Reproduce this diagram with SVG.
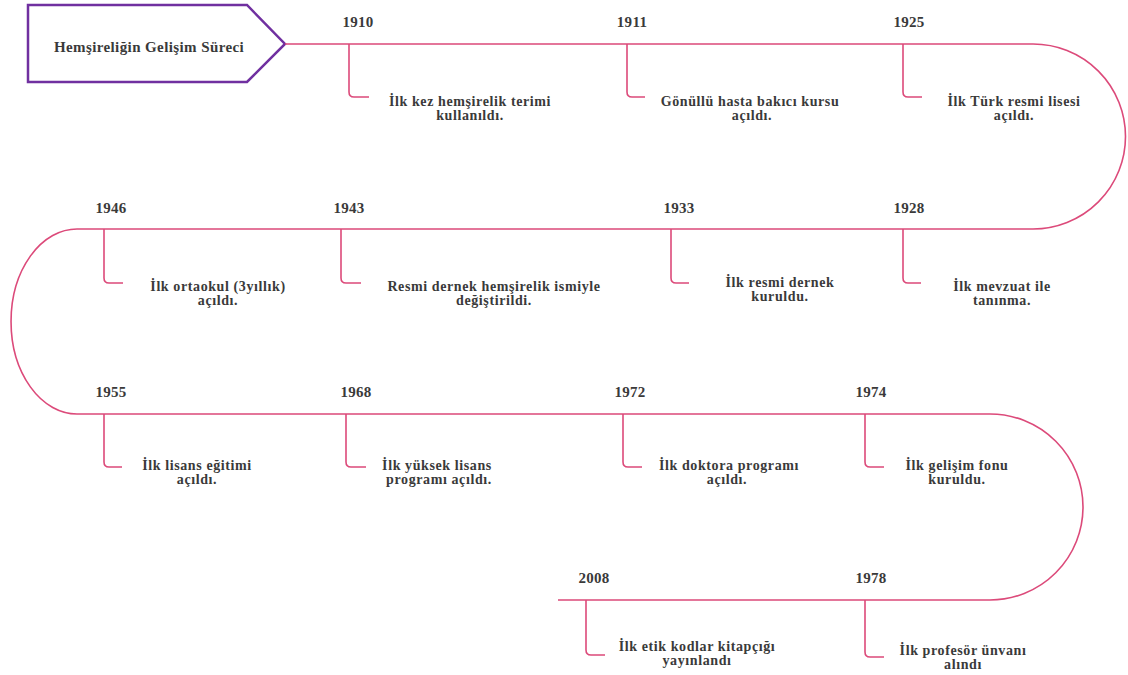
<svg xmlns="http://www.w3.org/2000/svg" width="1128" height="675" viewBox="0 0 1128 675">
<style>
.line{fill:none;stroke:#DC4A7A;stroke-width:1.6}
text{font-family:'Liberation Serif','Times New Roman','DejaVu Serif',serif;font-weight:bold;fill:#3a3a3a;text-anchor:middle}
.year{font-size:15px;letter-spacing:0.3px}
.lbl{font-size:14px;letter-spacing:0.6px}
.title{font-size:15px;letter-spacing:0.4px}
</style>
<rect width="1128" height="675" fill="#ffffff"/>
<g id="title">
<polygon points="28,5 247,5 285,44 247,82 28,82" fill="#ffffff" stroke="#7030A0" stroke-width="2.5"/>
<text class="title" x="149" y="52">Hemşireliğin Gelişim Süreci</text>
</g>
<g id="connectors">
<path class="line" d="M 285 44 H 1033 A 92.5 92.5 0 0 1 1033 229 H 77 A 66 92.5 0 0 0 77 414 H 990 A 93 93 0 0 1 990 600 H 558"/>
<path class="line" d="M 349 44 V 92 Q 349 97 354 97 H 369"/>
<path class="line" d="M 627 44 V 92 Q 627 97 632 97 H 645"/>
<path class="line" d="M 903 44 V 92 Q 903 97 908 97 H 922"/>
<path class="line" d="M 104 229 V 278 Q 104 283 109 283 H 123"/>
<path class="line" d="M 341 229 V 278 Q 341 283 346 283 H 361"/>
<path class="line" d="M 671 229 V 278 Q 671 283 676 283 H 689"/>
<path class="line" d="M 903 229 V 278 Q 903 283 908 283 H 921"/>
<path class="line" d="M 104 414 V 462 Q 104 467 109 467 H 122"/>
<path class="line" d="M 346 414 V 462 Q 346 467 351 467 H 366"/>
<path class="line" d="M 623 414 V 462 Q 623 467 628 467 H 642"/>
<path class="line" d="M 865 414 V 462 Q 865 467 870 467 H 884"/>
<path class="line" d="M 586 600 V 650 Q 586 655 591 655 H 605"/>
<path class="line" d="M 865 600 V 652 Q 865 657 870 657 H 884"/>
</g>
<g id="e1910"><text class="year" x="358" y="27">1910</text><text class="lbl" x="470" y="106">İlk kez hemşirelik terimi</text><text class="lbl" x="470" y="120">kullanıldı.</text></g>
<g id="e1911"><text class="year" x="632" y="27">1911</text><text class="lbl" x="750" y="106">Gönüllü hasta bakıcı kursu</text><text class="lbl" x="752" y="120">açıldı.</text></g>
<g id="e1925"><text class="year" x="909" y="27">1925</text><text class="lbl" x="1014" y="106">İlk Türk resmi lisesi</text><text class="lbl" x="1014" y="120">açıldı.</text></g>
<g id="e1928"><text class="year" x="909" y="213">1928</text><text class="lbl" x="1002" y="291">İlk mevzuat ile</text><text class="lbl" x="1002" y="305">tanınma.</text></g>
<g id="e1933"><text class="year" x="679" y="213">1933</text><text class="lbl" x="780" y="287">İlk resmi dernek</text><text class="lbl" x="780" y="301">kuruldu.</text></g>
<g id="e1943"><text class="year" x="349" y="213">1943</text><text class="lbl" x="494" y="291">Resmi dernek hemşirelik ismiyle</text><text class="lbl" x="494" y="305">değiştirildi.</text></g>
<g id="e1946"><text class="year" x="111" y="213">1946</text><text class="lbl" x="218" y="291">İlk ortaokul (3yıllık)</text><text class="lbl" x="218" y="305">açıldı.</text></g>
<g id="e1955"><text class="year" x="111" y="397">1955</text><text class="lbl" x="197" y="470">İlk lisans eğitimi</text><text class="lbl" x="197" y="484">açıldı.</text></g>
<g id="e1968"><text class="year" x="356" y="397">1968</text><text class="lbl" x="437" y="470">İlk yüksek lisans</text><text class="lbl" x="439" y="484">programı açıldı.</text></g>
<g id="e1972"><text class="year" x="630" y="397">1972</text><text class="lbl" x="729" y="470">İlk doktora programı</text><text class="lbl" x="727" y="484">açıldı.</text></g>
<g id="e1974"><text class="year" x="871" y="397">1974</text><text class="lbl" x="957" y="470">İlk gelişim fonu</text><text class="lbl" x="957" y="484">kuruldu.</text></g>
<g id="e1978"><text class="year" x="871" y="583">1978</text><text class="lbl" x="963" y="655">İlk profesör ünvanı</text><text class="lbl" x="963" y="669">alındı</text></g>
<g id="e2008"><text class="year" x="594" y="583">2008</text><text class="lbl" x="697" y="651">İlk etik kodlar kitapçığı</text><text class="lbl" x="697" y="665">yayınlandı</text></g>
</svg>
